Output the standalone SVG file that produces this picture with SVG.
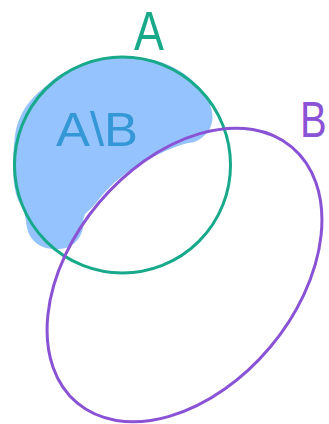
<svg xmlns="http://www.w3.org/2000/svg" width="329" height="424" viewBox="0 0 329 424">
<style>
.lbl{font-family:"Liberation Sans","DejaVu Sans",sans-serif;font-weight:normal}
</style>
<rect width="329" height="424" fill="#ffffff"/>
<g id="region-A-minus-B">
<path d="M46,86 C70,62 110,56 140,58 C170,60 195,78 207,98 C215,112 214,126 206,134 C200,140 194,143 188,143 C175,146 150,157 129,171 C115,181 105,191 96,203 C92,208 88,211 85,214 C83,218 83,222 83,228 C80,242 70,249 58,249 C42,250 30,242 27,228 C25,218 26,210 18,200 C12,185 12,160 15,135 C18,115 28,100 46,86 Z" fill="#95c3fd"/>
</g>
<g id="set-A">
<circle cx="122.5" cy="165" r="108" fill="none" stroke="#17a98a" stroke-width="3"/>
<text class="lbl" x="134" y="50" font-size="56" fill="#17a98a" textLength="30" lengthAdjust="spacingAndGlyphs">A</text>
</g>
<g id="set-B">
<ellipse cx="184.5" cy="275" rx="167" ry="112" transform="rotate(-50 184.5 275)" fill="none" stroke="#8a52d4" stroke-width="3"/>
<text class="lbl" x="300" y="137" font-size="40" fill="#8a52d4" transform="matrix(1,0,0,1.25,0,-34.25)">B</text>
</g>
<g id="label-A-minus-B">
<text class="lbl" x="56" y="146" font-size="48" fill="#3497d6" textLength="82" lengthAdjust="spacingAndGlyphs">A\B</text>
</g>
</svg>
